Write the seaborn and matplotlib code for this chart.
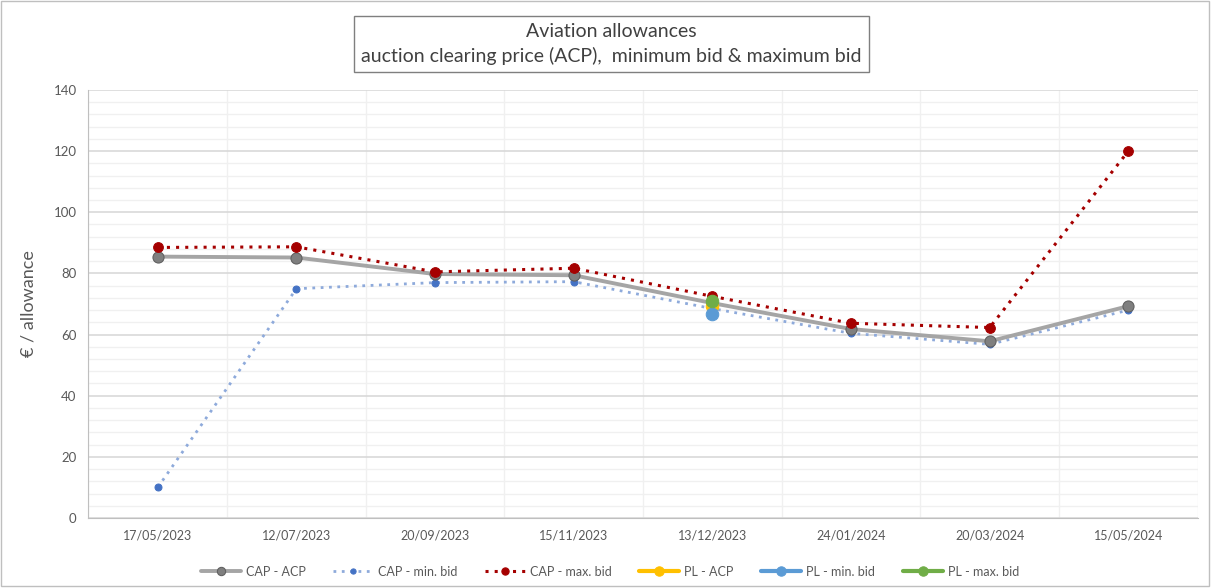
import numpy as np
import pandas as pd
import matplotlib.pyplot as plt
import seaborn as sns
from matplotlib.ticker import MultipleLocator

# data
dates = ['17/05/2023', '12/07/2023', '20/09/2023', '15/11/2023',
         '13/12/2023', '24/01/2024', '20/03/2024', '15/05/2024']
cap_acp = [85.5, 85.2, 79.8, 79.4, 70.3, 61.8, 57.8, 69.3]
cap_min = [10.0, 75.0, 77.0, 77.3, 68.5, 60.4, 56.8, 68.0]
cap_max = [88.5, 88.7, 80.5, 81.7, 72.5, 63.7, 62.3, 120.0]
pl_date = ['13/12/2023']
pl_acp = [69.5]
pl_min = [66.6]
pl_max = [71.0]

sns.set_style('white')
plt.rcParams['font.family'] = ['Lato', 'DejaVu Sans']

df = pd.DataFrame({'x': np.arange(len(dates)), 'acp': cap_acp, 'min': cap_min, 'max': cap_max})
xp = [dates.index(d) for d in pl_date]

fig = plt.figure(figsize=(12.11, 5.88), dpi=100)
ax = fig.add_axes([0.073, 0.119, 0.916, 0.728])

sns.lineplot(data=df, x='x', y='acp', ax=ax, color='#a5a5a5', lw=2.8, marker='o', markersize=8,
             markerfacecolor='#7f7f7f', markeredgecolor='#5f5f5f', label='CAP - ACP', zorder=4)
sns.lineplot(data=df, x='x', y='min', ax=ax, color='#8eaadb', lw=2, ls=(0, (1, 2)), marker='o', markersize=5,
             markerfacecolor='#4472c4', markeredgecolor='#4472c4', label='CAP - min. bid', zorder=3)
sns.lineplot(data=df, x='x', y='max', ax=ax, color='#a50000', lw=2.2, ls=(0, (1, 2)), marker='o', markersize=7,
             markerfacecolor='#a50000', markeredgecolor='#a50000', label='CAP - max. bid', zorder=5)
sns.lineplot(x=xp, y=pl_acp, ax=ax, color='#ffc000', lw=3, marker='o', markersize=9,
             markerfacecolor='#ffc000', markeredgecolor='#ffc000', label='PL - ACP', zorder=6)
sns.lineplot(x=xp, y=pl_min, ax=ax, color='#5b9bd5', lw=3, marker='o', markersize=9,
             markerfacecolor='#5b9bd5', markeredgecolor='#5b9bd5', label='PL - min. bid', zorder=6)
sns.lineplot(x=xp, y=pl_max, ax=ax, color='#70ad47', lw=3, marker='o', markersize=9,
             markerfacecolor='#70ad47', markeredgecolor='#70ad47', label='PL - max. bid', zorder=7)

ax.set_xlim(-0.5, len(dates) - 0.5)
ax.set_ylim(0, 140)
ax.yaxis.set_major_locator(MultipleLocator(20))
ax.yaxis.set_minor_locator(MultipleLocator(4))
ax.set_xticks(range(len(dates)))
ax.set_xticklabels(dates)
ax.set_xticks(np.arange(-0.5, len(dates), 1), minor=True)
ax.grid(which='major', axis='y', color='#d9d9d9', lw=1.2)
ax.grid(which='minor', axis='y', color='#f0f0f0', lw=1)
ax.grid(which='minor', axis='x', color='#f0f0f0', lw=1)
ax.set_axisbelow(True)
for s in ['top', 'right']:
    ax.spines[s].set_visible(False)
ax.spines['left'].set_color('#bfbfbf')
ax.spines['bottom'].set_color('#bfbfbf')
ax.tick_params(axis='x', which='major', length=0, labelsize=9, colors='#595959', pad=8)
ax.tick_params(axis='x', which='minor', length=5, color='#bfbfbf')
ax.tick_params(axis='y', which='major', length=5, color='#bfbfbf', labelsize=9.5, labelcolor='#595959')
ax.tick_params(axis='y', which='minor', length=0)
ax.set_xlabel('')
ax.set_ylabel('€ / allowance', fontsize=13, color='#595959', labelpad=12)

ax.legend(loc='upper center', bbox_to_anchor=(0.47, -0.085), ncol=6, frameon=False,
          fontsize=9, labelcolor='#595959', handlelength=3.2, handletextpad=0.4,
          columnspacing=2.2, markerscale=0.75)

fig.text(0.505, 0.925, 'Aviation allowances\nauction clearing price (ACP),  minimum bid & maximum bid',
         ha='center', va='center', fontsize=14, color='#404040', linespacing=1.45,
         bbox=dict(boxstyle='square,pad=0.35', fc='white', ec='#7f7f7f', lw=1))

fig.patches.append(plt.Rectangle((0.001, 0.003), 0.997, 0.995, transform=fig.transFigure,
                                 fill=False, ec='#bfbfbf', lw=1))

fig.savefig('out.png', dpi=100)
